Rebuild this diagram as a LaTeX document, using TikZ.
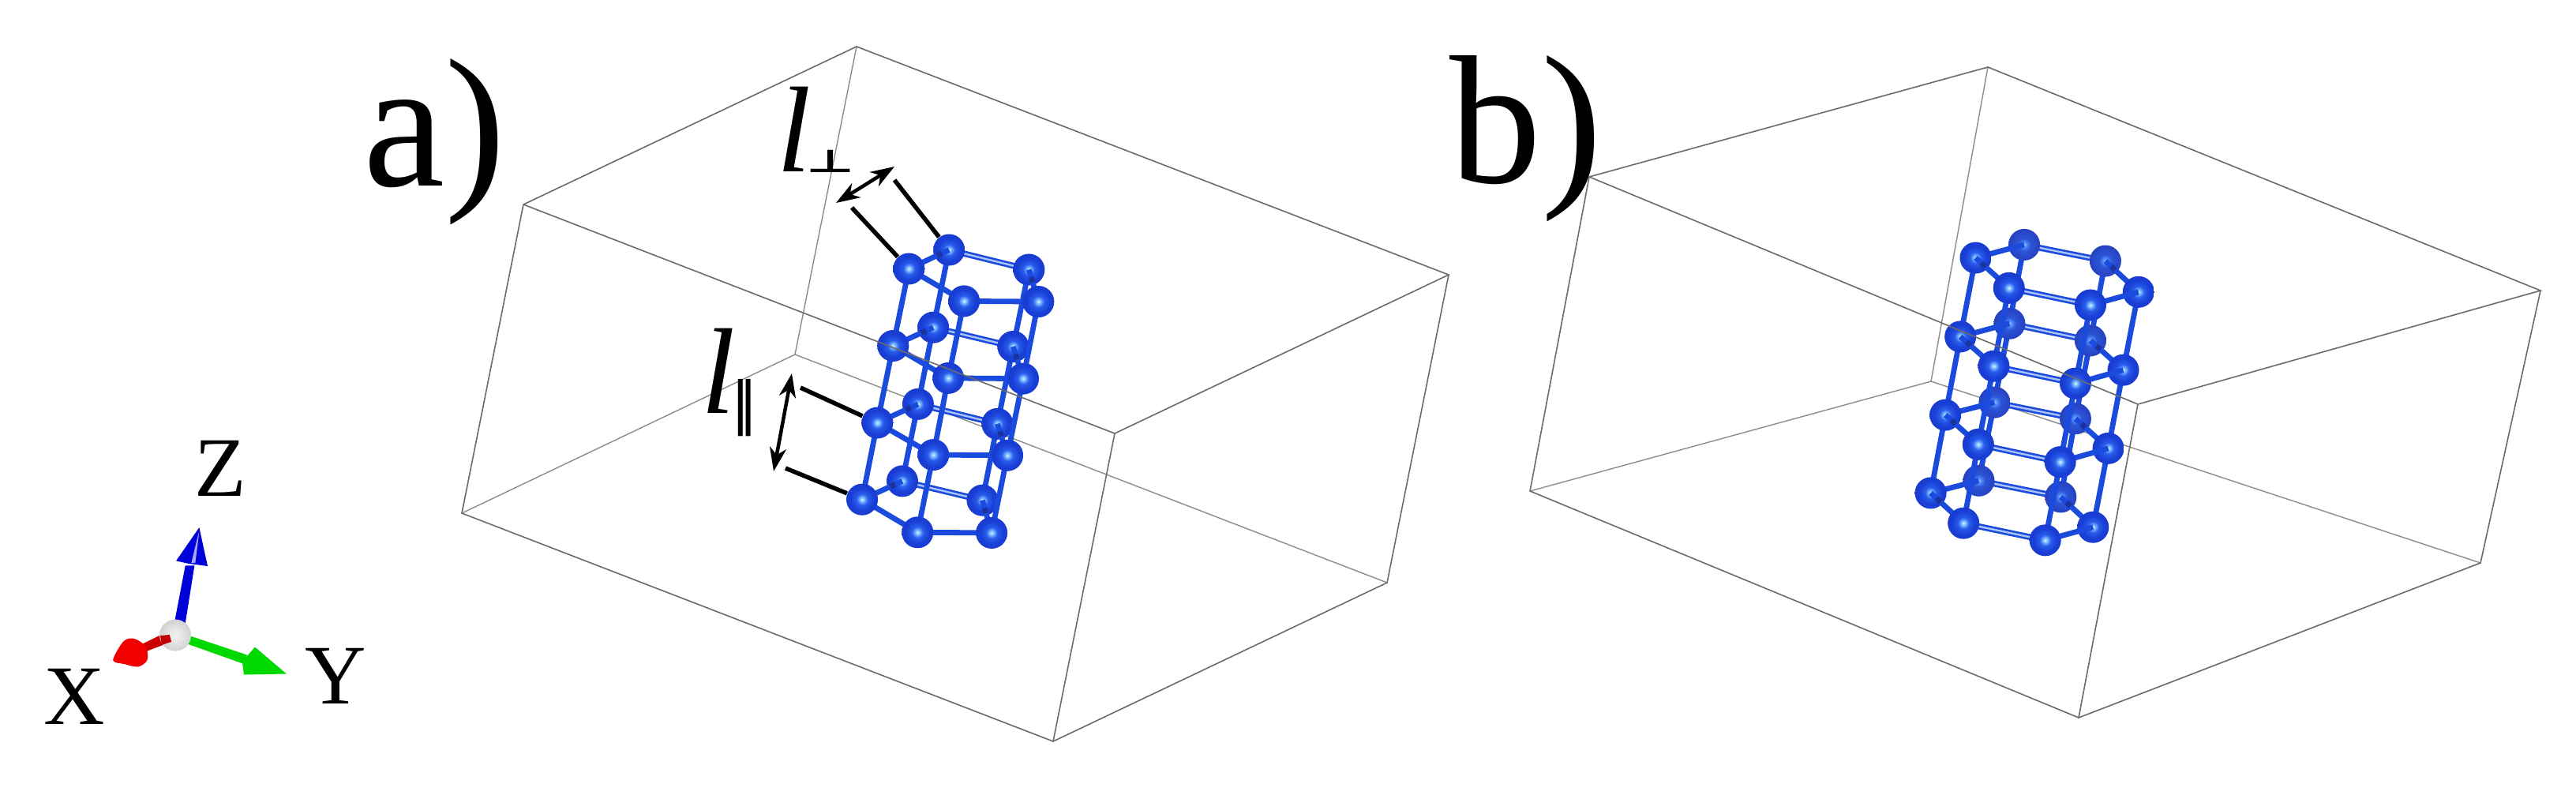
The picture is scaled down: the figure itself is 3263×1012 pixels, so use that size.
\documentclass[tikz,border=0pt]{standalone}
\usepackage{fontspec}
\setmainfont{Liberation Serif}
\newfontfamily\symfont{DejaVu Sans}
\usetikzlibrary{arrows.meta,calc}
\definecolor{fa}{rgb}{0.85,0.95,1}
\definecolor{fb}{rgb}{0.45,0.7,1}
\definecolor{fc}{rgb}{0.16,0.36,0.92}
\definecolor{fd}{rgb}{0.10,0.25,0.84}
\definecolor{fe}{rgb}{0.09,0.2,0.78}
\definecolor{ff}{rgb}{0.12,0.22,0.68}
\definecolor{ka}{rgb}{0.6,0.8,1}
\definecolor{kb}{rgb}{0.32,0.55,0.96}
\definecolor{kc}{rgb}{0.17,0.33,0.84}
\definecolor{kd}{rgb}{0.15,0.26,0.76}
\definecolor{ke}{rgb}{0.2,0.28,0.66}
\definecolor{ga}{rgb}{0.95,0.95,0.95}
\definecolor{gb}{rgb}{0.84,0.84,0.84}
\definecolor{gc}{rgb}{0.72,0.72,0.72}
\definecolor{gd}{rgb}{0.55,0.55,0.55}
\pgfdeclareradialshading{ballfront}{\pgfpoint{0bp}{0bp}}{%
 color(0bp)=(fa); color(4bp)=(fb); color(9bp)=(fc); color(18bp)=(fd); color(36bp)=(fe); color(50bp)=(ff)}
\pgfdeclareradialshading{ballback}{\pgfpoint{0bp}{0bp}}{%
 color(0bp)=(ka); color(4bp)=(kb); color(10bp)=(kc); color(24bp)=(kd); color(50bp)=(ke)}
\pgfdeclareradialshading{ballgrey}{\pgfpoint{0bp}{0bp}}{%
 color(0bp)=(ga); color(22bp)=(gb); color(40bp)=(gc); color(50bp)=(gd)}
\definecolor{bondblue}{HTML}{1B4BDC}
\definecolor{bonddark}{HTML}{1A339E}
\definecolor{bondlight}{HTML}{A9C2F7}
\tikzset{
 atom/.style={circle,inner sep=0pt,minimum size=0.4cm,shading=ballfront},
 atomback/.style={circle,inner sep=0pt,minimum size=0.4cm,shading=ballback},
 bond/.style={draw=bondblue,line width=0.068cm},
 bonddbl/.style={draw=bondblue,line width=0.026cm,double=bondlight,double distance=0.024cm},
 bondover/.style={draw=bonddark,line width=0.068cm},
 wireback/.style={draw=black!45,line width=0.014cm},
 wirefront/.style={draw=black!58,line width=0.016cm},
 leader/.style={draw=black,line width=0.055cm},
 dimarrow/.style={draw=black,line width=0.045cm,{Stealth[length=0.3cm,width=0.21cm,inset=0.09cm]}-{Stealth[length=0.3cm,width=0.21cm,inset=0.09cm]}},
 bigtext/.style={anchor=base west,inner sep=0pt,font=\fontsize{66}{66}\selectfont},
 axistext/.style={anchor=base west,inner sep=0pt,font=\fontsize{30.5}{30.5}\selectfont},
 lentext/.style={anchor=base west,inner sep=0pt,font=\fontsize{44}{44}\selectfont\itshape},
}
\newcommand{\overbond}[2]{%
 \draw[bond] (#1) -- (#2);
 \draw[bondover] ($(#1)!0.1cm!(#2)$) -- ($(#1)!0.17cm!(#2)$);}
\begin{document}
\begin{tikzpicture}[x=0.01cm,y=-0.01cm]
\useasboundingbox[fill=white] (0,0) rectangle (3263,1012);
% ---------- wire box a
\coordinate (aT) at (1085,59); \coordinate (aL) at (663,259); \coordinate (aK) at (1007,449);
\coordinate (aR) at (1835,348); \coordinate (aF) at (1412,549); \coordinate (aG) at (1757,738);
\coordinate (aM) at (585,650); \coordinate (aH) at (1334,939);
\draw[wireback] (aT) -- (aK) (aM) -- (aK) -- (aG);
\draw[wirefront] (aL) -- (aT) -- (aR) -- (aF) -- (aH) -- (aG) -- (aR) (aL) -- (aM) -- (aH);
% ---------- wire box b
\coordinate (bT) at (2518,85); \coordinate (bL) at (2013,224); \coordinate (bK) at (2446,483);
\coordinate (bR) at (3218,368); \coordinate (bF) at (2708,512); \coordinate (bG) at (3142,713);
\coordinate (bM) at (1938,622); \coordinate (bH) at (2633,909);
\draw[wireback] (bT) -- (bK) (bM) -- (bK) -- (bG);
\draw[wirefront] (bL) -- (bT) -- (bR) -- (bF) -- (bH) -- (bG) -- (bR) (bL) -- (bM) -- (bH);
% ---------- cluster a
\begin{scope}[shift={(900,220)},x=0.0033333cm,y=-0.0033333cm]
\foreach \n/\x/\y in {A1/755/362,B1/908/290,C1/1212/365,D1/965/485,E1/1248/487,
  A2/695/655,B2/848/585,C2/1152/658,D2/905/778,E2/1190/780,
  A3/635/948,B3/790/877,C3/1092/952,D3/848/1070,E3/1130/1072,
  A4/577/1240,B4/730/1170,C4/1035/1243,D4/788/1365,E4/1070/1367}
  \coordinate (a\n) at (\x,\y);
\end{scope}
\foreach \c in {B,C}{\foreach \i/\j in {1/2,2/3,3/4} \draw[bond] (a\c\i) -- (a\c\j);}
\foreach \i in {1,2,3,4} \draw[bonddbl] (aB\i) -- (aC\i);
\foreach \i in {1,2,3,4}{
  \node[atom] (naB\i) at (aB\i) {};
  \node[atom] (naC\i) at (aC\i) {};}
\foreach \i/\j in {1/2,2/3,3/4} \draw[bond] (aA\i) -- (aA\j);
\foreach \i in {1,2,3,4} {\overbond{aB\i}{aA\i}}
\foreach \c in {D,E}{\foreach \i/\j in {1/2,2/3,3/4} \draw[bond] (a\c\i) -- (a\c\j);}
\foreach \i in {1,2,3,4}{
  \draw[bond] (aA\i) -- (aD\i);
  \draw[bond] (aD\i) -- (aE\i);
  \overbond{aC\i}{aE\i}
  \node[atom] (naD\i) at (aD\i) {};
  \node[atom] (naE\i) at (aE\i) {};
  \node[atom] (naA\i) at (aA\i) {};}
% ---------- cluster b
\begin{scope}[shift={(2380,260)},x=0.0033333cm,y=-0.0033333cm]
\foreach \n/\x/\y in {A1/368/200,B1/553/150,C1/862/212,D1/495/315,E1/805/380,F1/988/330,
  A2/310/500,B2/497/450,C2/805/515,D2/437/612,E2/748/678,F2/930/627,
  A3/253/798,B3/440/750,C3/748/812,D3/378/910,E3/690/977,F3/873/925,
  A4/197/1095,B4/380/1048,C4/692/1110,D4/322/1210,E4/633/1275,F4/815/1225}
  \coordinate (b\n) at (\x,\y);
\end{scope}
\foreach \c in {B,C}{\foreach \i/\j in {1/2,2/3,3/4} \draw[bond] (b\c\i) -- (b\c\j);}
\foreach \i in {1,2,3,4} \draw[bonddbl] (bB\i) -- (bC\i);
\foreach \i in {1,2,3,4}{
  \node[atomback] (nbB\i) at (bB\i) {};
  \node[atomback] (nbC\i) at (bC\i) {};}
\foreach \c in {A,F}{\foreach \i/\j in {1/2,2/3,3/4} \draw[bond] (b\c\i) -- (b\c\j);}
\foreach \i in {1,2,3,4}{
  \draw[bond] (bA\i) -- (bB\i);
  \overbond{bC\i}{bF\i}
  \node[atom] (nbA\i) at (bA\i) {};
  \node[atom] (nbF\i) at (bF\i) {};}
\foreach \c in {D,E}{\foreach \i/\j in {1/2,2/3,3/4} \draw[bond] (b\c\i) -- (b\c\j);}
\foreach \i in {1,2,3,4}{
  \overbond{bA\i}{bD\i}
  \draw[bonddbl] (bD\i) -- (bE\i);
  \draw[bond] (bE\i) -- (bF\i);
  \node[atom] (nbD\i) at (bD\i) {};
  \node[atom] (nbE\i) at (bE\i) {};}
% ---------- front edges over the atoms
\draw[wirefront] (aL) -- (aF);
\draw[wirefront] (bL) -- (bF);
% ---------- dimension marks
\coordinate (p1) at (1133,228); \coordinate (p2) at (1079,263);
\coordinate (p3) at (1133,211); \coordinate (p4) at (1059,257);
\coordinate (q1) at (1014,491); \coordinate (q2) at (995,593);
\coordinate (q3) at (1003,473); \coordinate (q4) at (980,597);
\draw[leader] (p1) -- (naB1);
\draw[leader] (p2) -- (naA1);
\draw[leader] (q1) -- (naA3);
\draw[leader] (q2) -- (naA4);
\draw[dimarrow] (p3) -- (p4);
\draw[dimarrow] (q3) -- (q4);
% ---------- axes
\begin{scope}[shift={(60,540)},x=0.0033333cm,y=-0.0033333cm]
\fill[blue!85!black] (483,750) -- (525,750) -- (560,530) -- (525,530) -- cycle;
\fill[blue!85!black] (578,385) -- (610,532) -- (535,522) -- (490,512) -- cycle;
\fill[blue!35!white] (572,420) -- (578,400) -- (563,520) -- (548,520) -- cycle;
\fill[green!85!black] (535,795) -- (525,825) -- (750,905) -- (760,870) -- cycle;
\fill[green!85!black] (790,840) -- (910,942) -- (748,945) -- (742,895) -- cycle;
\fill[red!80!black] (425,797) -- (465,793) -- (472,820) -- (372,858) -- (362,828) -- cycle;
\fill[red!95!black] plot[smooth cycle,tension=0.5] coordinates {(250,890) (290,818) (330,808) (375,838) (380,890) (345,915) (295,905)};
\node[circle,inner sep=0pt,minimum size=0.4cm,shading=ballgrey] (origin) at (487,795) {};
\fill[red!75!black] (430,797) -- (465,793) -- (472,820) -- (435,832) -- cycle;
\end{scope}
% ---------- text
\node[bigtext] (la) at (460,235) {a)};
\node[bigtext] (lb) at (1836,231) {b)};
\node[axistext] (lz) at (246,628) {Z};
\node[axistext] (lx) at (55,917) {X};
\node[axistext] (ly) at (386,891) {Y};
\node[lentext] (lperp) at (984,217) {l};
\node[lentext] (lpar) at (888,523) {l};
\node[inner sep=0pt] (sperp) at (1052,204) {{\fontsize{19}{19}\symfont\bfseries\scalebox{1}[0.6]{⊥}}};
\node[inner sep=0pt] (spar) at (942,517) {{\fontsize{21}{21}\symfont\bfseries\scalebox{0.7}[1]{∥}}};
\end{tikzpicture}
\end{document}
